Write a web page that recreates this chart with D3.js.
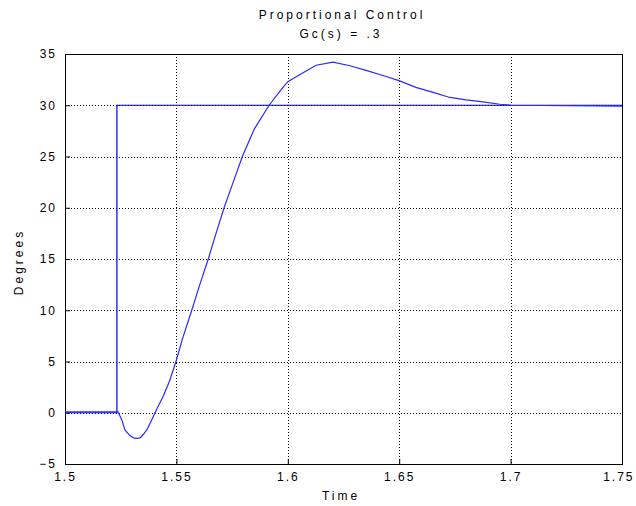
<!DOCTYPE html>
<html>
<head>
<meta charset="utf-8">
<script src="https://cdn.jsdelivr.net/npm/d3@7"></script>
<style>
  body { margin: 0; background: #fff; }
  text { font-family: "Liberation Sans Narrow", "Arial Narrow", "Liberation Sans", sans-serif; font-size: 12px; fill: #000; }
</style>
</head>
<body>
<div id="chart"></div>
<script>
// step input (reference)
const stepTime = [1.5, 1.5233, 1.5233, 1.75];
const stepDeg = [0, 0, 30, 30];

// system response
const respTime = [1.5, 1.52, 1.5238, 1.5255, 1.5269, 1.529, 1.5307, 1.5322, 1.5337, 1.5352,
    1.5367, 1.5385, 1.5404, 1.5422, 1.5441, 1.5471, 1.5498, 1.553, 1.5569, 1.5605,
    1.5643, 1.5678, 1.5714, 1.5755, 1.5796, 1.585, 1.5916, 1.5973, 1.6, 1.6055,
    1.6127, 1.6203, 1.6279, 1.6351, 1.6427, 1.6499, 1.6575, 1.6652, 1.6728, 1.68,
    1.6876, 1.6952, 1.7002, 1.75];
const respDeg = [0.1, 0.1, 0.1, -0.7, -1.67, -2.2, -2.45, -2.5, -2.45, -2.1,
    -1.67, -0.9, 0, 0.8, 1.6, 3.2, 5, 7.4, 10, 12.5,
    15, 17.5, 20, 22.5, 25, 27.7, 30, 31.6, 32.3, 33.0,
    33.9, 34.2, 33.85, 33.4, 32.9, 32.4, 31.75, 31.25, 30.76, 30.53,
    30.33, 30.1, 30.0, 29.9];

const xTicks = [1.5, 1.55, 1.6, 1.65, 1.7, 1.75];
const xTickLabels = ['1.5', '1.55', '1.6', '1.65', '1.7', '1.75'];
const yTicks = [-5, 0, 5, 10, 15, 20, 25, 30, 35];

const W = 636, H = 506;
const margin = { top: 54, right: 14, bottom: 42, left: 65 };
const width = W - margin.left - margin.right;
const height = H - margin.top - margin.bottom;

const svg = d3.select('#chart').append('svg')
    .attr('width', W)
    .attr('height', H);

const g = svg.append('g')
    .attr('transform', 'translate(' + margin.left + ',' + margin.top + ')');

const x = d3.scaleLinear().domain([1.5, 1.75]).range([0, width]);
const y = d3.scaleLinear().domain([-5, 35]).range([height, 0]);

// dotted grid
g.append('g')
    .selectAll('line')
    .data(xTicks.slice(1, -1))
    .enter().append('line')
    .attr('x1', d => Math.round(x(d)) + 0.5).attr('x2', d => Math.round(x(d)) + 0.5)
    .attr('y1', 0).attr('y2', height)
    .attr('stroke', '#000').attr('stroke-width', 1).attr('stroke-dasharray', '1,2');

g.append('g')
    .selectAll('line')
    .data(yTicks.slice(1, -1))
    .enter().append('line')
    .attr('y1', d => Math.round(y(d)) + 0.5).attr('y2', d => Math.round(y(d)) + 0.5)
    .attr('x1', 0).attr('x2', width)
    .attr('stroke', '#000').attr('stroke-width', 1).attr('stroke-dasharray', '1,2');

// axes (ticks inward, MATLAB style)
const xAxis = g.append('g')
    .attr('transform', 'translate(0,' + height + ')')
    .call(d3.axisBottom(x).tickValues(xTicks).tickFormat((d, i) => xTickLabels[i]).tickSizeInner(-5).tickSizeOuter(0).tickPadding(8));
const yAxis = g.append('g')
    .call(d3.axisLeft(y).tickValues(yTicks).tickSizeInner(-5).tickSizeOuter(0).tickPadding(8));

[xAxis, yAxis].forEach(a => {
    a.select('.domain').remove();
    a.selectAll('.tick line').attr('stroke', '#000');
    a.selectAll('.tick text')
        .style('font-family', '"Liberation Sans Narrow", "Arial Narrow", sans-serif')
        .style('font-size', '12px')
        .style('letter-spacing', '2px');
});

// last x label sits against the right edge
xAxis.selectAll('.tick text')
    .filter(d => d === 1.75)
    .attr('text-anchor', 'end')
    .attr('dx', 12);

// box
g.append('rect')
    .attr('x', 0.5).attr('y', 0.5)
    .attr('width', width).attr('height', height)
    .attr('fill', 'none').attr('stroke', '#000').attr('stroke-width', 1);

const line = d3.line()
    .x(d => x(d[0]))
    .y(d => y(d[1]));

g.append('path')
    .datum(stepTime.map((t, i) => [t, stepDeg[i]]))
    .attr('d', line)
    .attr('fill', 'none')
    .attr('stroke', '#0000ee')
    .attr('stroke-width', 1.2);

g.append('path')
    .datum(respTime.map((t, i) => [t, respDeg[i]]))
    .attr('d', line)
    .attr('fill', 'none')
    .attr('stroke', '#2a2aff')
    .attr('stroke-width', 1.2);

// titles
svg.append('text')
    .attr('x', 342).attr('y', 19)
    .attr('text-anchor', 'middle')
    .style('letter-spacing', '3px')
    .text('Proportional Control');
svg.append('text')
    .attr('x', 341).attr('y', 38)
    .attr('text-anchor', 'middle')
    .style('letter-spacing', '3px')
    .text('Gc(s) = .3');

svg.append('text')
    .attr('x', 341).attr('y', 500)
    .attr('text-anchor', 'middle')
    .style('letter-spacing', '3px')
    .text('Time');

svg.append('text')
    .attr('transform', 'translate(23,262) rotate(-90)')
    .attr('text-anchor', 'middle')
    .style('letter-spacing', '3px')
    .text('Degrees');
</script>
</body>
</html>
